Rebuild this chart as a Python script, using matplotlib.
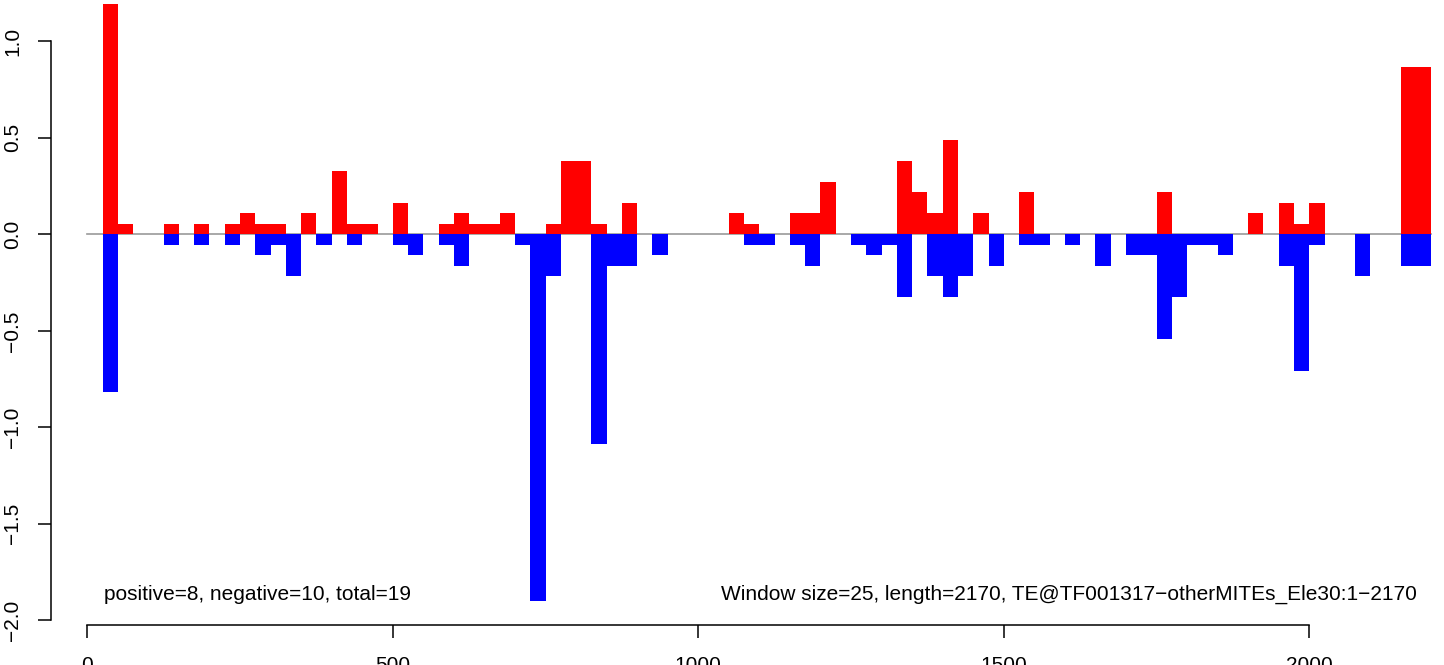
import numpy as np
import matplotlib.pyplot as plt

# window scores, one value per 25 bp window starting at 25
window = 25
pos_scores = [
    1.195, 0.054, 0, 0, 0.054, 0, 0.054, 0, 0.054, 0.109,
    0.054, 0.054, 0, 0.109, 0, 0.326, 0.054, 0.054, 0, 0.163,
    0, 0, 0.054, 0.109, 0.054, 0.054, 0.109, 0, 0, 0.054,
    0.380, 0.380, 0.054, 0, 0.163, 0, 0, 0, 0, 0,
    0, 0.109, 0.054, 0, 0, 0.109, 0.109, 0.272, 0, 0,
    0, 0, 0.380, 0.217, 0.109, 0.489, 0, 0.109, 0, 0,
    0.217, 0, 0, 0, 0, 0, 0, 0, 0, 0.217,
    0, 0, 0, 0, 0, 0.109, 0, 0.163, 0.054, 0.163,
    0, 0, 0, 0, 0, 0.869, 0.869,
]
neg_scores = [
    -0.815, 0, 0, 0, -0.054, 0, -0.054, 0, -0.054, 0,
    -0.109, -0.054, -0.217, 0, -0.054, 0, -0.054, 0, 0, -0.054,
    -0.109, 0, -0.054, -0.163, 0, 0, 0, -0.054, -1.901, -0.217,
    0, 0, -1.086, -0.163, -0.163, 0, -0.109, 0, 0, 0,
    0, 0, -0.054, -0.054, 0, -0.054, -0.163, 0, 0, -0.054,
    -0.109, -0.054, -0.326, 0, -0.217, -0.326, -0.217, 0, -0.163, 0,
    -0.054, -0.054, 0, -0.054, 0, -0.163, 0, -0.109, -0.109, -0.543,
    -0.326, -0.054, -0.054, -0.109, 0, 0, 0, -0.163, -0.706, -0.054,
    0, 0, -0.217, 0, 0, -0.163, -0.163,
]
x_ticks = [0, 500, 1000, 1500, 2000]
y_ticks = [-2.0, -1.5, -1.0, -0.5, 0.0, 0.5, 1.0]

left_text = "positive=8, negative=10, total=19"
right_text = "Window size=25, length=2170, TE@TF001317\u2212otherMITEs_Ele30:1\u22122170"

plt.rcParams["font.family"] = ["Liberation Sans", "DejaVu Sans"]

W, H = 1444, 665
fig = plt.figure(figsize=(W / 100, H / 100), dpi=100)
ax = fig.add_axes([50.7 / W, 40 / H, 1 - 50.7 / W, 1 - 40 / H])

starts = window * (np.arange(len(pos_scores)) + 1)
ax.plot([0, starts[-1] + window], [0, 0], color="#999999", lw=1.2, zorder=1)
ax.bar(starts, pos_scores, width=window, align="edge", color="#ff0000", linewidth=0, zorder=2)
ax.bar(starts, neg_scores, width=window, align="edge", color="#0000ff", linewidth=0, zorder=2)

ax.set_xlim(-59.9, 2220.5)
ax.set_ylim(-2.024, 1.214)

for s in ["top", "right"]:
    ax.spines[s].set_visible(False)
ax.spines["left"].set_bounds(y_ticks[0], y_ticks[-1])
ax.spines["bottom"].set_bounds(x_ticks[0], x_ticks[-1])
for s in ["left", "bottom"]:
    ax.spines[s].set_linewidth(1.1)

ax.set_xticks(x_ticks)
ax.set_yticks(y_ticks)
ax.set_yticklabels([f"{v:.1f}".replace("-", "\u2212") for v in y_ticks],
                   rotation=90, va="center")
ax.tick_params(axis="both", direction="out", length=9.4, width=1.1,
               labelsize=15, colors="black")
ax.tick_params(axis="x", pad=13)
ax.tick_params(axis="y", pad=11)

ax.text(28, -1.864, left_text, ha="left", va="center", fontsize=15)
ax.text(2176, -1.864, right_text, ha="right", va="center", fontsize=15)

fig.savefig("out.png", dpi=100)
